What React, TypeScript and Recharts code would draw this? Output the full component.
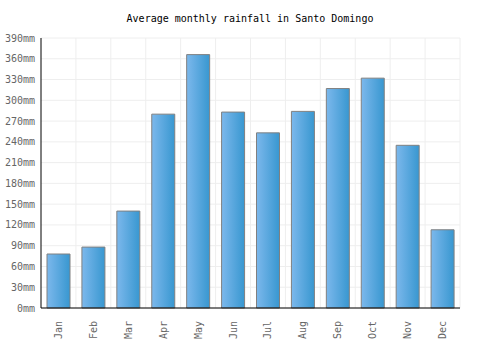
import { BarChart, Bar, XAxis, YAxis, CartesianGrid } from 'recharts';

const months = ['Jan', 'Feb', 'Mar', 'Apr', 'May', 'Jun', 'Jul', 'Aug', 'Sep', 'Oct', 'Nov', 'Dec'];
const rainfall = [78, 88, 140, 280, 366, 283, 253, 284, 317, 332, 235, 113];
const yTicks = [0, 30, 60, 90, 120, 150, 180, 210, 240, 270, 300, 330, 360, 390];

const data = months.map((month, i) => ({ month, rain: rainfall[i] }));

const FONT = '"DejaVu Sans Mono", monospace';

function MonthTick({ x, y, payload }: any) {
  return (
    <text
      transform={`translate(${x},${y + 5}) rotate(-90)`}
      textAnchor="end"
      dominantBaseline="central"
      fontFamily={FONT}
      fontSize={10}
      fill="#666"
    >
      {payload.value}
    </text>
  );
}

export default function App() {
  return (
    <div style={{ position: 'absolute', left: 0, top: 0, width: 500, height: 350, background: '#fff' }}>
      <div
        style={{
          position: 'absolute',
          top: 13,
          left: 0,
          width: 500,
          textAlign: 'center',
          fontFamily: FONT,
          fontSize: 10,
          color: '#000',
        }}
      >
        Average monthly rainfall in Santo Domingo
      </div>
      <BarChart
        width={500}
        height={350}
        data={data}
        margin={{ top: 38, right: 40, bottom: 0, left: 0 }}
        barCategoryGap="33%"
      >
        <defs>
          <linearGradient id="barFill" x1="0" y1="0" x2="1" y2="0">
            <stop offset="0%" stopColor="#7cb8ec" />
            <stop offset="100%" stopColor="#3897d0" />
          </linearGradient>
        </defs>
        <CartesianGrid
          stroke="#eeeeee"
          verticalCoordinatesGenerator={({ offset }: any) =>
            months.map((_, i) => offset.left + ((i + 1) * offset.width) / months.length)
          }
        />
        <XAxis
          dataKey="month"
          axisLine={{ stroke: '#000' }}
          tickLine={false}
          tick={<MonthTick />}
          interval={0}
          height={42}
        />
        <YAxis
          domain={[0, 390]}
          ticks={yTicks}
          interval={0}
          width={41}
          axisLine={{ stroke: '#000' }}
          tickLine={false}
          tickMargin={0}
          tickFormatter={(v: number) => `${v}mm`}
          tick={{ fontFamily: FONT, fontSize: 10, fill: '#666' }}
        />
        <Bar
          dataKey="rain"
          fill="url(#barFill)"
          stroke="#808080"
          strokeWidth={1}
          barSize={23}
          isAnimationActive={false}
        />
      </BarChart>
    </div>
  );
}
